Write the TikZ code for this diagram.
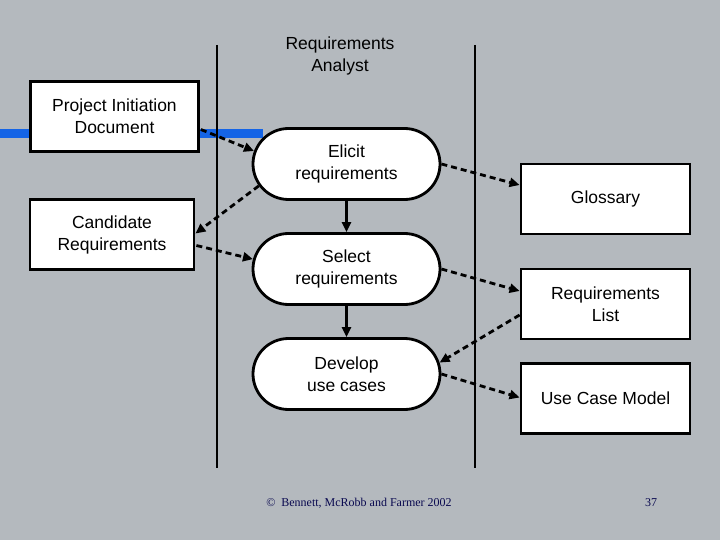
\documentclass[tikz,border=0pt]{standalone}
\usepackage{fontspec}
\setmainfont{Liberation Sans}
\newfontfamily\footfont{Liberation Serif}
\usetikzlibrary{shapes.misc,arrows.meta,calc}
\definecolor{bggray}{RGB}{180,185,190}
\definecolor{barblue}{RGB}{20,100,230}
\definecolor{footnavy}{RGB}{10,10,80}
\tikzset{
  docbox/.style={draw=black,fill=white,line width=2.8pt,rectangle,align=center,
    font=\fontsize{17.5}{22}\selectfont,inner sep=0pt},
  actbox/.style={draw=black,fill=white,line width=2.8pt,rounded rectangle,align=center,
    font=\fontsize{17.5}{22}\selectfont,inner sep=0pt,minimum width=187pt,minimum height=71pt},
  flowline/.style={line width=2.8pt,dash pattern=on 6pt off 4pt,-{Triangle[length=10pt,width=9pt]}},
  solidflow/.style={line width=2.8pt,-{Triangle[length=10pt,width=9pt]}},
  lane/.style={line width=2.8pt}
}
\begin{document}
\begin{tikzpicture}[x=1pt,y=-1pt]
\fill[bggray] (0,0) rectangle (720,540);
\useasboundingbox (0,0) rectangle (720,540);
\fill[barblue] (0,129) rectangle (263,138);
\draw[lane] (217,45) -- (217,468);
\draw[lane] (475,45) -- (475,468);
\node[align=center,font=\fontsize{17.5}{22}\selectfont] (role) at (340,56) {Requirements\\Analyst};
\node[docbox,minimum width=168pt,minimum height=70pt] (pid) at (114.5,116.5) {Project Initiation\\Document};
\node[docbox,minimum width=164pt,minimum height=70pt] (cand) at (112,234.5) {Candidate\\Requirements};
\node[actbox] (elicit) at (346.5,164) {Elicit\\requirements};
\node[actbox] (select) at (346.5,269) {Select\\requirements};
\node[actbox] (develop) at (346.5,374) {Develop\\use cases};
\node[docbox,minimum width=169pt,minimum height=70pt] (gloss) at (605.5,199) {Glossary};
\node[docbox,minimum width=169pt,minimum height=70pt] (reqlist) at (605.5,304) {Requirements\\List};
\node[docbox,minimum width=169pt,minimum height=70pt] (ucm) at (605.5,398.5) {Use Case Model};
\draw[flowline] ($(pid.east)+(1,13)$) -- (elicit.172);
\draw[flowline] (elicit.194) -- ($(cand.east)+(0,-1)$);
\draw[flowline] ($(cand.east)+(1,11)$) -- (select.174);
\draw[solidflow] (elicit.south) -- (select.north);
\draw[solidflow] (select.south) -- (develop.north);
\draw[flowline] (elicit.east) -- ($(gloss.west)+(0,-14)$);
\draw[flowline] (select.east) -- ($(reqlist.west)+(0,-13)$);
\draw[flowline] ($(reqlist.west)+(0,11)$) -- (develop.7);
\draw[flowline] (develop.east) -- ($(ucm.west)+(0,-1)$);
\node[font=\footfont\fontsize{12}{14}\selectfont,text=footnavy] (copy) at (359,503) {\textcopyright\ \ Bennett, McRobb and Farmer 2002};
\node[font=\footfont\fontsize{12}{14}\selectfont,text=footnavy] (page) at (651,503) {37};
\end{tikzpicture}
\end{document}
